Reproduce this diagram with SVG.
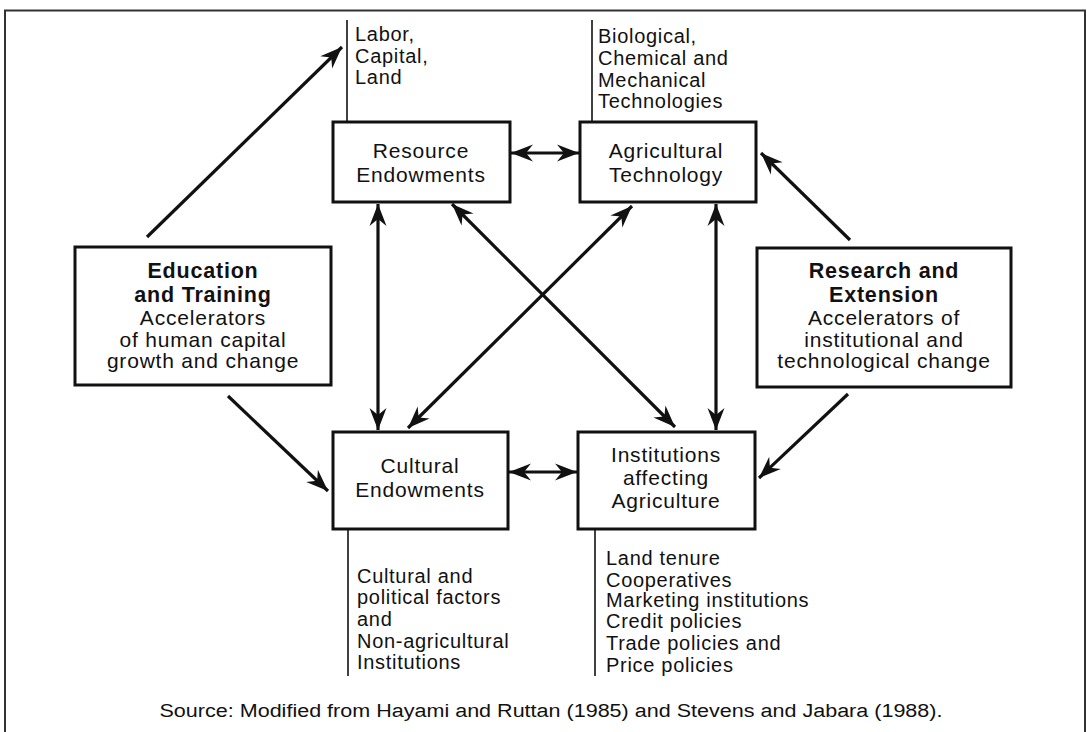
<svg xmlns="http://www.w3.org/2000/svg" width="1087" height="732" viewBox="0 0 1087 732">
<style>
text{font-family:"Liberation Sans",Arial,sans-serif;fill:#111;}
.t{font-size:21px;letter-spacing:0.8px;}
.b{font-size:21.5px;font-weight:bold;letter-spacing:0.8px;}
.l{font-size:20px;letter-spacing:0.7px;}
.box{fill:#fff;stroke:#111;stroke-width:3;}
.ln{stroke:#111;stroke-width:1.6;fill:none;}
.ar{stroke:#111;stroke-width:3.2;fill:none;}
.one{marker-end:url(#ah);}
.two{marker-end:url(#ah);marker-start:url(#ahs);}
</style>
<defs>
<marker id="ah" markerUnits="userSpaceOnUse" viewBox="-24 -10 26 20" refX="0" refY="0" markerWidth="26" markerHeight="20" orient="auto">
<path d="M0,0 L-22,-8.5 L-15,0 L-22,8.5 Z" fill="#111"/>
</marker>
<marker id="ahs" markerUnits="userSpaceOnUse" viewBox="-24 -10 26 20" refX="0" refY="0" markerWidth="26" markerHeight="20" orient="auto-start-reverse">
<path d="M0,0 L-22,-8.5 L-15,0 L-22,8.5 Z" fill="#111"/>
</marker>
</defs>
<rect width="1087" height="732" fill="#fff"/>
<g id="frame">
<path d="M5,732 L5,10.5 L1085,10.5 L1085,732" fill="none" stroke="#333" stroke-width="2"/>
</g>
<g id="connectors">
<line class="ar one" x1="147" y1="237" x2="342" y2="47"/>
<line class="ar one" x1="228" y1="396" x2="328" y2="491"/>
<line class="ar one" x1="850" y1="240" x2="761" y2="153"/>
<line class="ar one" x1="848" y1="394" x2="759" y2="478"/>
<line class="ar two" x1="511" y1="153" x2="579" y2="153"/>
<line class="ar two" x1="509" y1="472" x2="577" y2="472"/>
<line class="ar two" x1="378" y1="204" x2="378" y2="430"/>
<line class="ar two" x1="716" y1="204" x2="716" y2="430"/>
<line class="ar two" x1="452" y1="204" x2="675" y2="427"/>
<line class="ar two" x1="632" y1="206" x2="408" y2="428"/>
</g>
<g id="labor-label">
<line class="ln" x1="347" y1="20" x2="347" y2="122"/>
<text class="l" x="355" y="41">Labor,</text>
<text class="l" x="355" y="63">Capital,</text>
<text class="l" x="355" y="84">Land</text>
</g>
<g id="tech-label">
<line class="ln" x1="592" y1="20" x2="592" y2="122"/>
<text class="l" x="598" y="43">Biological,</text>
<text class="l" x="598" y="65">Chemical and</text>
<text class="l" x="598" y="87">Mechanical</text>
<text class="l" x="598" y="108">Technologies</text>
</g>
<g id="cultural-label">
<line class="ln" x1="348" y1="529" x2="348" y2="676"/>
<text class="l" x="357" y="583">Cultural and</text>
<text class="l" x="357" y="604">political factors</text>
<text class="l" x="357" y="626">and</text>
<text class="l" x="357" y="648">Non-agricultural</text>
<text class="l" x="357" y="669">Institutions</text>
</g>
<g id="institutions-label">
<line class="ln" x1="595" y1="529" x2="595" y2="676"/>
<text class="l" x="606" y="565">Land tenure</text>
<text class="l" x="606" y="587">Cooperatives</text>
<text class="l" x="606" y="607">Marketing institutions</text>
<text class="l" x="606" y="628">Credit policies</text>
<text class="l" x="606" y="650">Trade policies and</text>
<text class="l" x="606" y="672">Price policies</text>
</g>
<g id="resource-endowments">
<rect class="box" x="333" y="122" width="177" height="80"/>
<text class="t" x="421" y="158" text-anchor="middle">Resource</text>
<text class="t" x="421" y="182" text-anchor="middle">Endowments</text>
</g>
<g id="agricultural-technology">
<rect class="box" x="580" y="122" width="176" height="80"/>
<text class="t" x="666" y="158" text-anchor="middle">Agricultural</text>
<text class="t" x="666" y="182" text-anchor="middle">Technology</text>
</g>
<g id="education-training">
<rect class="box" x="75" y="247" width="256" height="138"/>
<text class="b" x="203" y="278" text-anchor="middle">Education</text>
<text class="b" x="203" y="302" text-anchor="middle">and Training</text>
<text class="t" x="203" y="325" text-anchor="middle">Accelerators</text>
<text class="t" x="203" y="347" text-anchor="middle">of human capital</text>
<text class="t" x="203" y="368" text-anchor="middle">growth and change</text>
</g>
<g id="research-extension">
<rect class="box" x="757" y="248" width="254" height="139"/>
<text class="b" x="884" y="278" text-anchor="middle">Research and</text>
<text class="b" x="884" y="302" text-anchor="middle">Extension</text>
<text class="t" x="884" y="325" text-anchor="middle">Accelerators of</text>
<text class="t" x="884" y="347" text-anchor="middle">institutional and</text>
<text class="t" x="884" y="368" text-anchor="middle">technological change</text>
</g>
<g id="cultural-endowments">
<rect class="box" x="333" y="432" width="175" height="97"/>
<text class="t" x="420" y="473" text-anchor="middle">Cultural</text>
<text class="t" x="420" y="497" text-anchor="middle">Endowments</text>
</g>
<g id="institutions">
<rect class="box" x="578" y="432" width="177" height="97"/>
<text class="t" x="666" y="462" text-anchor="middle">Institutions</text>
<text class="t" x="666" y="485" text-anchor="middle">affecting</text>
<text class="t" x="666" y="508" text-anchor="middle">Agriculture</text>
</g>
<g id="source">
<text x="551" y="717" font-size="18" text-anchor="middle" textLength="783" lengthAdjust="spacingAndGlyphs">Source: Modified from Hayami and Ruttan (1985) and Stevens and Jabara (1988).</text>
</g>
</svg>
